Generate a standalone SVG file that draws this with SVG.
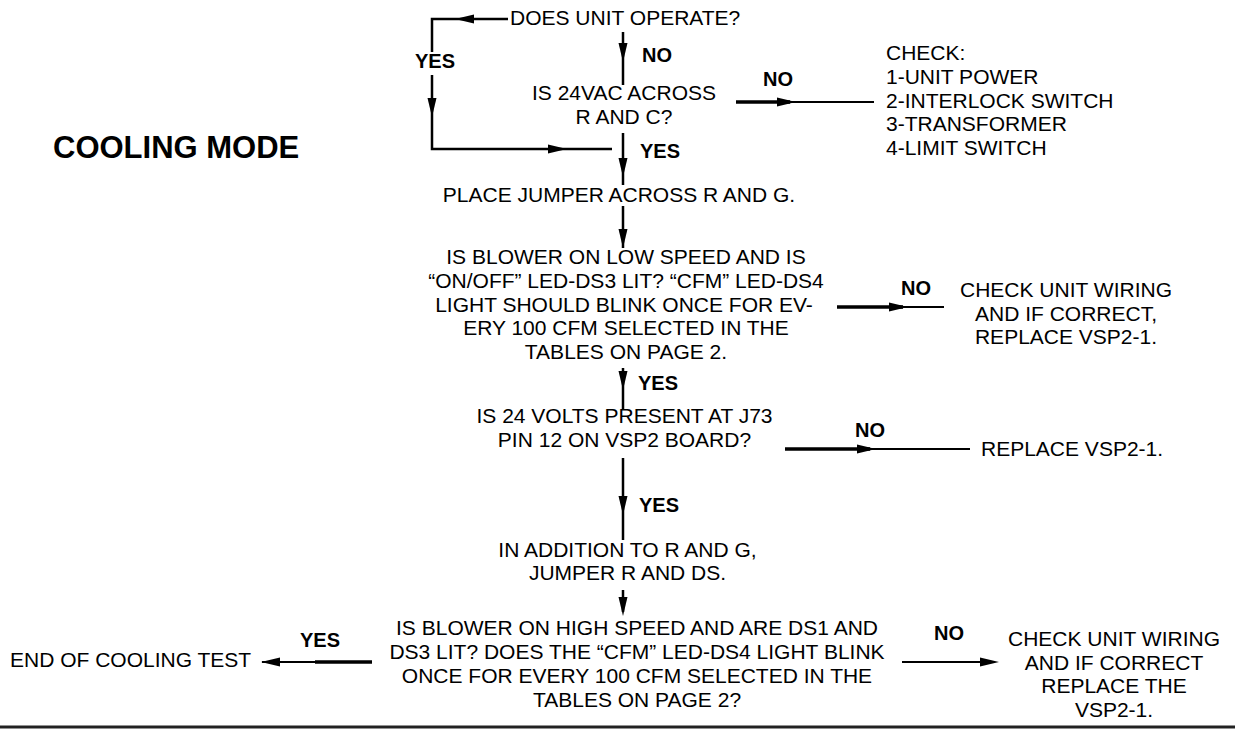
<svg xmlns="http://www.w3.org/2000/svg" xmlns:xlink="http://www.w3.org/1999/xlink" width="1235" height="732" viewBox="0 0 1235 732">
<style>
.t{font-family:"Liberation Sans",Arial,sans-serif;font-size:21px;fill:#000}
.c{text-anchor:middle}
.b{font-family:"Liberation Sans",Arial,sans-serif;font-size:20px;font-weight:bold;fill:#000}
.ln{stroke:#000;stroke-width:2.5;fill:none}
.tk{stroke:#000;stroke-width:3.5;fill:none}
.tn{stroke:#000;stroke-width:2;fill:none}
.ah{fill:#000}
</style>
<defs>
<path id="ah" d="M0,0 L-19,-4.5 L-19,4.5 Z"/>
</defs>
<rect width="1235" height="732" fill="#fff"/>

<g id="title"><text x="53" y="158" font-family="'Liberation Sans',Arial,sans-serif" font-size="31" font-weight="bold">COOLING MODE</text></g>

<g id="connectors">
  <!-- Does unit operate -> YES loop -->
  <path class="ln" d="M508,19 H432 V52 M432,75 V149 H612"/>
  <use href="#ah" class="ah" transform="translate(455,19) rotate(180)"/>
  <use href="#ah" class="ah" transform="translate(432,117) rotate(90)"/>
  <use href="#ah" class="ah" transform="translate(567,149)"/>
  <text class="b" x="415" y="68">YES</text>
  <!-- NO down -->
  <path class="ln" d="M623,32 V85"/>
  <use href="#ah" class="ah" transform="translate(623,62) rotate(90)"/>
  <text class="b" x="642" y="62">NO</text>
  <!-- NO right to CHECK -->
  <path class="tk" d="M736,102 H790"/>
  <path class="tn" d="M790,102 H874"/>
  <use href="#ah" class="ah" transform="translate(796,102)"/>
  <text class="b" x="763" y="86">NO</text>
  <!-- YES down to place jumper -->
  <path class="ln" d="M623,133 V185"/>
  <use href="#ah" class="ah" transform="translate(623,177) rotate(90)"/>
  <text class="b" x="640" y="158">YES</text>
  <!-- place jumper -> blower low -->
  <path class="ln" d="M623,206 V248"/>
  <use href="#ah" class="ah" transform="translate(623,248) rotate(90)"/>
  <!-- NO right to check wiring -->
  <path class="tk" d="M837,307 H903"/>
  <path class="tn" d="M903,307 H944"/>
  <use href="#ah" class="ah" transform="translate(908,307)"/>
  <text class="b" x="901" y="295">NO</text>
  <!-- YES down to 24 volts -->
  <path class="ln" d="M623,368 V410"/>
  <use href="#ah" class="ah" transform="translate(623,390) rotate(90)"/>
  <text class="b" x="638" y="390">YES</text>
  <!-- NO right to replace -->
  <path class="tk" d="M785,449 H870"/>
  <path class="tn" d="M870,449 H970"/>
  <use href="#ah" class="ah" transform="translate(876,449)"/>
  <text class="b" x="855" y="437">NO</text>
  <!-- YES down to in addition -->
  <path class="ln" d="M623,458 V540"/>
  <use href="#ah" class="ah" transform="translate(623,515) rotate(90)"/>
  <text class="b" x="639" y="512">YES</text>
  <!-- jumper R and DS -> high speed -->
  <path class="ln" d="M623,590 V612"/>
  <use href="#ah" class="ah" transform="translate(623,616) rotate(90)"/>
  <!-- YES left to end -->
  <path class="tn" d="M262,662 H315"/>
  <path class="tk" d="M315,662 H372"/>
  <use href="#ah" class="ah" transform="translate(261,662) rotate(180)"/>
  <text class="b" x="300" y="647">YES</text>
  <!-- NO right to check wiring 2 -->
  <path class="tn" d="M902,662 H985"/>
  <use href="#ah" class="ah" transform="translate(999,662)"/>
  <text class="b" x="934" y="640">NO</text>
</g>

<g id="n-operate"><text class="t" x="510" y="25">DOES UNIT OPERATE?</text></g>

<g id="n-24vac">
  <text class="t c" x="624" y="100">IS 24VAC ACROSS</text>
  <text class="t c" x="624" y="124">R AND C?</text>
</g>

<g id="n-check">
  <text class="t" x="886" y="60">CHECK:</text>
  <text class="t" x="886" y="84">1-UNIT POWER</text>
  <text class="t" x="886" y="108">2-INTERLOCK SWITCH</text>
  <text class="t" x="886" y="131">3-TRANSFORMER</text>
  <text class="t" x="886" y="155">4-LIMIT SWITCH</text>
</g>

<g id="n-place"><text class="t c" x="619" y="202">PLACE JUMPER ACROSS R AND G.</text></g>

<g id="n-low">
  <text class="t c" x="626" y="264">IS BLOWER ON LOW SPEED AND IS</text>
  <text class="t c" x="626" y="288">“ON/OFF” LED-DS3 LIT? “CFM” LED-DS4</text>
  <text class="t c" x="624" y="312">LIGHT SHOULD BLINK ONCE FOR EV-</text>
  <text class="t c" x="626" y="335">ERY 100 CFM SELECTED IN THE</text>
  <text class="t c" x="626" y="359">TABLES ON PAGE 2.</text>
</g>

<g id="n-wiring1">
  <text class="t c" x="1066" y="297">CHECK UNIT WIRING</text>
  <text class="t c" x="1066" y="321">AND IF CORRECT,</text>
  <text class="t c" x="1066" y="344">REPLACE VSP2-1.</text>
</g>

<g id="n-24v">
  <text class="t c" x="624.5" y="423">IS 24 VOLTS PRESENT AT J73</text>
  <text class="t c" x="624.5" y="447">PIN 12 ON VSP2 BOARD?</text>
</g>

<g id="n-replace"><text class="t" x="981" y="456">REPLACE VSP2-1.</text></g>

<g id="n-addition">
  <text class="t c" x="627.5" y="557">IN ADDITION TO R AND G,</text>
  <text class="t c" x="627.5" y="580">JUMPER R AND DS.</text>
</g>

<g id="n-high">
  <text class="t c" x="637" y="635">IS BLOWER ON HIGH SPEED AND ARE DS1 AND</text>
  <text class="t c" x="637" y="659">DS3 LIT? DOES THE “CFM” LED-DS4 LIGHT BLINK</text>
  <text class="t c" x="637" y="683">ONCE FOR EVERY 100 CFM SELECTED IN THE</text>
  <text class="t c" x="637" y="707">TABLES ON PAGE 2?</text>
</g>

<g id="n-end"><text class="t" x="10" y="667">END OF COOLING TEST</text></g>

<g id="n-wiring2">
  <text class="t c" x="1114" y="646">CHECK UNIT WIRING</text>
  <text class="t c" x="1114" y="670">AND IF CORRECT</text>
  <text class="t c" x="1114" y="693">REPLACE THE</text>
  <text class="t c" x="1114" y="717">VSP2-1.</text>
</g>

<g id="rule"><line x1="0" y1="727" x2="1235" y2="727" stroke="#222" stroke-width="3"/></g>
</svg>
